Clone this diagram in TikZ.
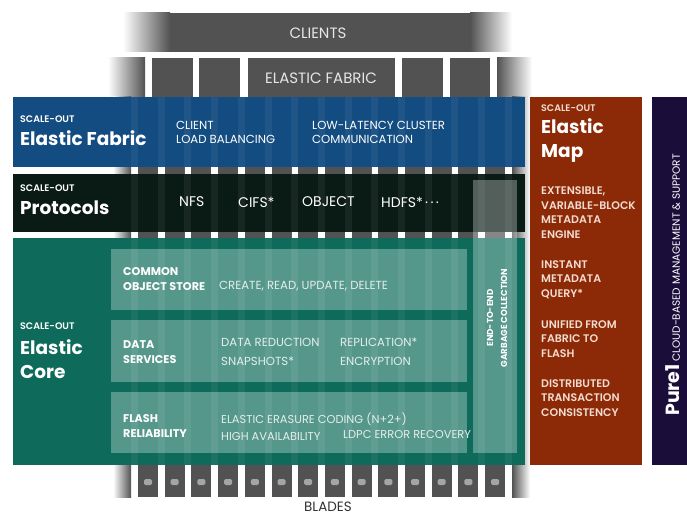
\documentclass[tikz,border=0pt]{standalone}
\usepackage{fontspec}
\setmainfont{Poppins}
\newfontfamily\semib{Poppins SemiBold}
\definecolor{fabblue}{HTML}{134C80}
\definecolor{protblack}{HTML}{0A1A14}
\definecolor{coregreen}{HTML}{0E6B5B}
\definecolor{mapred}{HTML}{8C2A08}
\definecolor{purepurple}{HTML}{1B0D3A}
\definecolor{bladegray}{HTML}{525252}
\definecolor{dotgray}{HTML}{A5A5A5}
\definecolor{bartext}{HTML}{E6E6E6}
\definecolor{itemtext}{HTML}{E4EEEC}
\definecolor{maptext}{HTML}{F4DCCF}
\begin{document}
\begin{tikzpicture}[x=1pt, y=-1pt,
  every node/.style = {inner sep=0pt, anchor=west, align=left, text=white},
  scaletag/.style = {font=\semib\fontsize{9.5}{10}\selectfont},
  bigname/.style = {font=\bfseries\fontsize{18.5}{24}\selectfont},
  itemtxt/.style = {font=\fontsize{11.7}{19}\selectfont, text=itemtext},
  headtxt/.style = {font=\bfseries\fontsize{11.2}{15}\selectfont},
  maplist/.style = {font=\semib\fontsize{11}{14.7}\selectfont, text=maptext},
  prottxt/.style = {font=\fontsize{14}{15}\selectfont},
  bartxt/.style = {font=\fontsize{15}{16}\selectfont, text=bartext, anchor=center},
  innerbox/.style = {fill=white, opacity=.3}]
\fill[white] (0,0) rectangle (687,516);
\useasboundingbox (0,0) rectangle (687,516);
% clients bar
\shade[left color=white, right color=bladegray] (123,13) rectangle (170,52);
\fill[bladegray] (170,13) rectangle (470,52);
\shade[left color=bladegray, right color=white] (470,13) rectangle (512,52);
\node[bartxt] (clients) at (318,33) {CLIENTS};
% elastic fabric row
\shade[left color=white, right color=bladegray] (108,58) rectangle (145,97);
\foreach \a/\b in {152/193, 199/240, 248/395, 402/443, 450/490}
  \fill[bladegray] (\a,58) rectangle (\b,97);
\shade[left color=bladegray, right color=white] (497,58) rectangle (532,97);
\node[bartxt] (fabric) at (321,78) {ELASTIC FABRIC};
% blades
\shade[left color=white, right color=bladegray] (113,97) rectangle (131,497);
\shade[left color=bladegray, right color=white] (512,97) rectangle (530,497);
\foreach \i in {0,...,13} {
  \fill[bladegray] ({138+26.7*\i},97) rectangle +(20,400);
  \fill[dotgray, rounded corners=1.5] ({144+26.7*\i},479) rectangle +(8,6);
}
\node[bartxt, font=\fontsize{13.5}{14}\selectfont, text=black!80] (blades) at (328,506.5) {BLADES};
% bands
\fill[fabblue] (13,97) rectangle (525,167);
\fill[protblack] (13,174) rectangle (525,232);
\fill[coregreen] (13,238) rectangle (525,465);
\foreach \i in {0,...,14}
  \fill[white, opacity=.06] ({131+26.7*\i},97) rectangle +(7,368);
\fill[innerbox] (111,249) rectangle (467,310);
\fill[innerbox] (111,320) rectangle (467,382);
\fill[innerbox] (111,392) rectangle (467,453);
\fill[innerbox] (473,180) rectangle (517,453);
\fill[mapred] (530,97) rectangle (642,465);
\fill[purepurple] (652,97) rectangle (687,465);
% elastic fabric
\node[scaletag] (efs) at (20,119) {SCALE-OUT};
\node[bigname] (eft) at (20,138) {Elastic Fabric};
\node[itemtxt, font=\fontsize{11.7}{14}\selectfont, text=white] (efa) at (176,132) {CLIENT\\LOAD BALANCING};
\node[itemtxt, font=\fontsize{11.7}{14}\selectfont, text=white] (efb) at (312,132) {LOW-LATENCY CLUSTER\\COMMUNICATION};
% protocols
\node[scaletag] (prs) at (20,188) {SCALE-OUT};
\node[bigname] (prt) at (20,207.5) {Protocols};
\node[prottxt] (nfs) at (179,202) {NFS};
\node[prottxt] (cifs) at (238,202) {CIFS*};
\node[prottxt] (obj) at (302,202) {OBJECT};
\node[prottxt] (hdfs) at (381,202) {HDFS*\,·\,·\,·};
% elastic core
\node[scaletag] (ecs) at (20,326) {SCALE-OUT};
\node[bigname] (ect) at (20,359) {Elastic\\Core};
\node[headtxt] (cos) at (123,279) {COMMON\\OBJECT STORE};
\node[itemtxt] (crud) at (219,286) {CREATE, READ, UPDATE, DELETE};
\node[headtxt] (ds) at (123,352) {DATA\\SERVICES};
\node[itemtxt] (dsa) at (221,352) {DATA REDUCTION\\SNAPSHOTS*};
\node[itemtxt] (dsb) at (340,352) {REPLICATION*\\ENCRYPTION};
\node[headtxt] (fr) at (123,426.5) {FLASH\\RELIABILITY};
\node[itemtxt, font=\fontsize{11.4}{17}\selectfont] (fra) at (221,426.5) {ELASTIC ERASURE CODING (N+2+)\\HIGH AVAILABILITY};
\node[itemtxt, font=\fontsize{11.4}{12}\selectfont] (frb) at (343,435) {LDPC ERROR RECOVERY};
\node[headtxt, font=\bfseries\fontsize{8.7}{14}\selectfont, align=center, anchor=center, rotate=90] (gc) at (497,318) {END-TO-END\\GARBAGE COLLECTION};
% elastic map
\node[scaletag, text=maptext] (ems) at (541,108) {SCALE-OUT};
\node[bigname] (emt) at (541,141) {Elastic\\Map};
\node[maplist] (ema) at (541,212.5) {EXTENSIBLE,\\VARIABLE-BLOCK\\METADATA\\ENGINE};
\node[maplist] (emb) at (541,279.5) {INSTANT\\METADATA\\QUERY*};
\node[maplist] (emc) at (541,339) {UNIFIED FROM\\FABRIC TO\\FLASH};
\node[maplist] (emd) at (541,398) {DISTRIBUTED\\TRANSACTION\\CONSISTENCY};
% pure1
\node[anchor=center, rotate=90, font=\fontsize{10.5}{11}\selectfont] (pure) at (673,285)
  {{\bfseries\fontsize{19}{20}\selectfont Pure1} CLOUD-BASED MANAGEMENT \& SUPPORT};
\end{tikzpicture}
\end{document}
